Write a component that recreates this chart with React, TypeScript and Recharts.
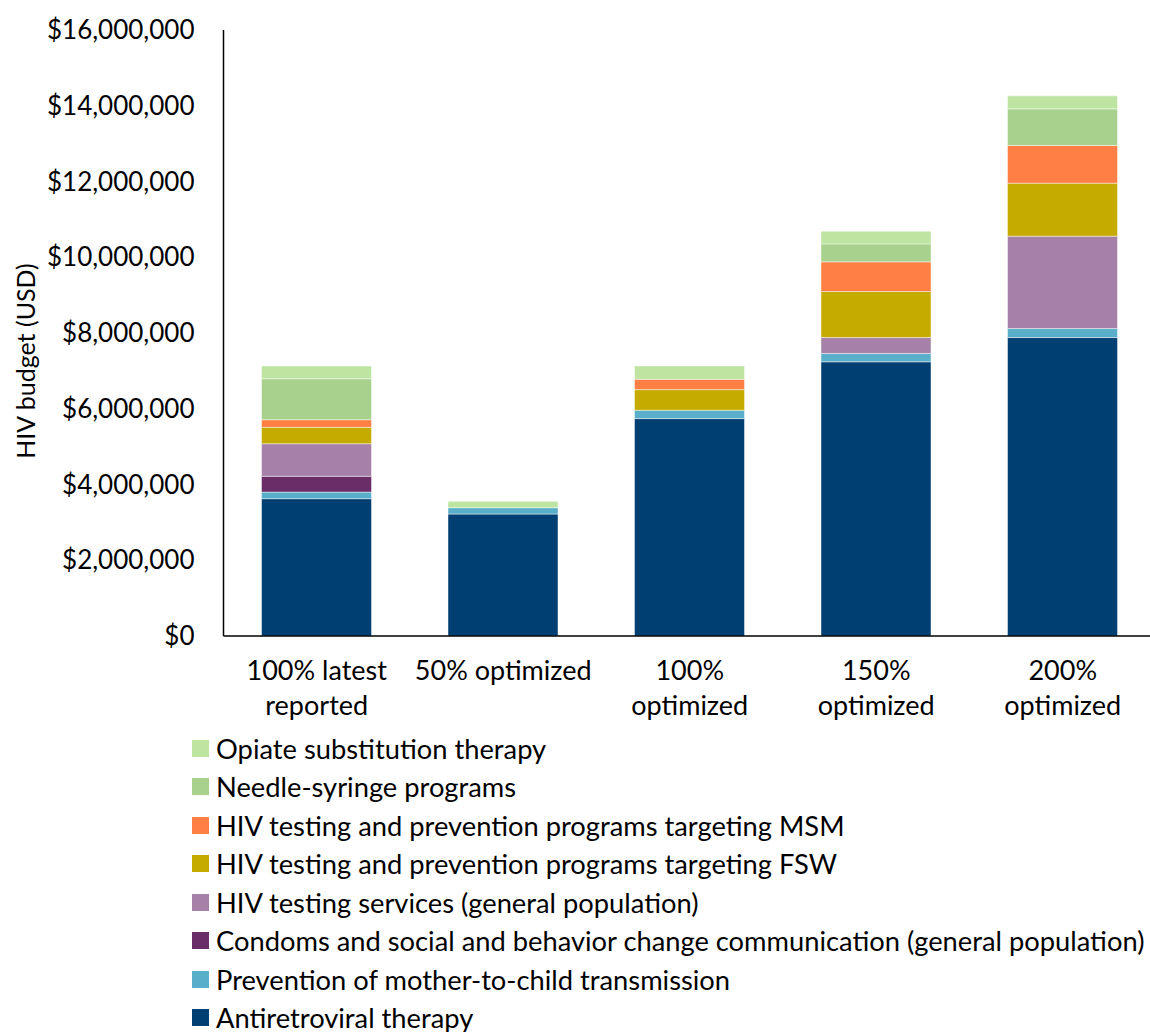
import { BarChart, Bar, XAxis, YAxis, Legend, Label } from 'recharts'

const FONT = 'Lato, "Open Sans", sans-serif'

const categories = [
  '100% latest\nreported',
  '50% optimized',
  '100%\noptimized',
  '150%\noptimized',
  '200%\noptimized',
]

// values in USD (bottom -> top)
const antiretroviral = [3625000, 3220000, 5740000, 7240000, 7880000]
const pmtct = [175000, 167000, 220000, 220000, 237000]
const condoms = [417000, 0, 0, 0, 0]
const testingGeneral = [860000, 0, 0, 420000, 2440000]
const programsFsw = [433000, 0, 545000, 1215000, 1400000]
const programsMsm = [200000, 0, 274000, 783000, 994000]
const needleSyringe = [1083000, 0, 0, 475000, 968000]
const opiate = [335000, 168000, 352000, 335000, 343000]

const yTicks = [0, 2000000, 4000000, 6000000, 8000000, 10000000, 12000000, 14000000, 16000000]

const SERIES = [
  { key: 'art', name: 'Antiretroviral therapy', color: '#003F71', values: antiretroviral },
  { key: 'pmtct', name: 'Prevention of mother-to-child transmission', color: '#59AFCA', values: pmtct },
  { key: 'condoms', name: 'Condoms and social and behavior change communication (general population)', color: '#6B2D68', values: condoms },
  { key: 'hts', name: 'HIV testing services (general population)', color: '#A680A8', values: testingGeneral },
  { key: 'fsw', name: 'HIV testing and prevention programs targeting FSW', color: '#C5AA00', values: programsFsw },
  { key: 'msm', name: 'HIV testing and prevention programs targeting MSM', color: '#FF7F44', values: programsMsm },
  { key: 'nsp', name: 'Needle-syringe programs', color: '#A9D18E', values: needleSyringe },
  { key: 'ost', name: 'Opiate substitution therapy', color: '#BDE4A0', values: opiate },
]

const data = categories.map((category, i) => {
  const row: Record<string, string | number> = { category }
  SERIES.forEach((s) => {
    row[s.key] = s.values[i]
  })
  return row
})

const fmtMoney = (v: number) => `$${v.toLocaleString('en-US')}`

function CategoryTick({ x, y, payload }: any) {
  const lines = String(payload.value).split('\n')
  return (
    <text x={x} y={y} textAnchor="middle" fontSize={27} fontFamily={FONT} fill="#000">
      {lines.map((line, i) => (
        <tspan key={i} x={x} dy={i === 0 ? 44 : 35}>
          {line}
        </tspan>
      ))}
    </text>
  )
}

function YTitle({ viewBox }: any) {
  const cx = 25
  const cy = viewBox.y + viewBox.height / 2 + 28
  return (
    <text
      x={cx}
      y={cy}
      transform={`rotate(-90, ${cx}, ${cy})`}
      textAnchor="middle"
      dominantBaseline="central"
      fontSize={25}
      fontFamily={FONT}
      fill="#000"
    >
      HIV budget (USD)
    </text>
  )
}

function LegendList() {
  return (
    <div style={{ fontFamily: FONT, fontSize: 27.3, color: '#000' }}>
      {[...SERIES].reverse().map((s) => (
        <div key={s.key} style={{ display: 'flex', alignItems: 'center', height: 38.5, whiteSpace: 'nowrap' }}>
          <span style={{ width: 17, height: 17, background: s.color, marginRight: 7, flex: 'none' }} />
          <span>{s.name}</span>
        </div>
      ))}
    </div>
  )
}

export default function App() {
  return (
    <div style={{ position: 'absolute', left: 0, top: 0, width: 1150, height: 1032, overflow: 'hidden', background: '#fff' }}>
      <BarChart
        width={1160}
        height={1032}
        data={data}
        margin={{ top: 30, right: 4, bottom: 316, left: 0 }}
        barSize={110}
      >
        <XAxis
          dataKey="category"
          tick={<CategoryTick />}
          tickLine={false}
          tickSize={0}
          tickMargin={0}
          height={80}
          interval={0}
          axisLine={{ stroke: '#000', strokeWidth: 1.5 }}
        />
        <YAxis
          width={223.5}
          domain={[0, 16000000]}
          ticks={yTicks}
          tickFormatter={fmtMoney}
          tickLine={false}
          tickSize={0}
          tickMargin={29}
          axisLine={{ stroke: '#000', strokeWidth: 1.5 }}
          tick={{ fontSize: 26, fontFamily: FONT, fill: '#000' }}
        >
          <Label content={<YTitle />} />
        </YAxis>
        <Legend
          layout="vertical"
          align="center"
          verticalAlign="middle"
          content={<LegendList />}
          wrapperStyle={{ left: 192, top: 729, width: 960 }}
        />
        {SERIES.map((s) => (
          <Bar
            key={s.key}
            dataKey={s.key}
            name={s.name}
            stackId="budget"
            fill={s.color}
            stroke="#ffffff"
            strokeOpacity={0.6}
            strokeWidth={0.75}
            isAnimationActive={false}
          />
        ))}
      </BarChart>
    </div>
  )
}
